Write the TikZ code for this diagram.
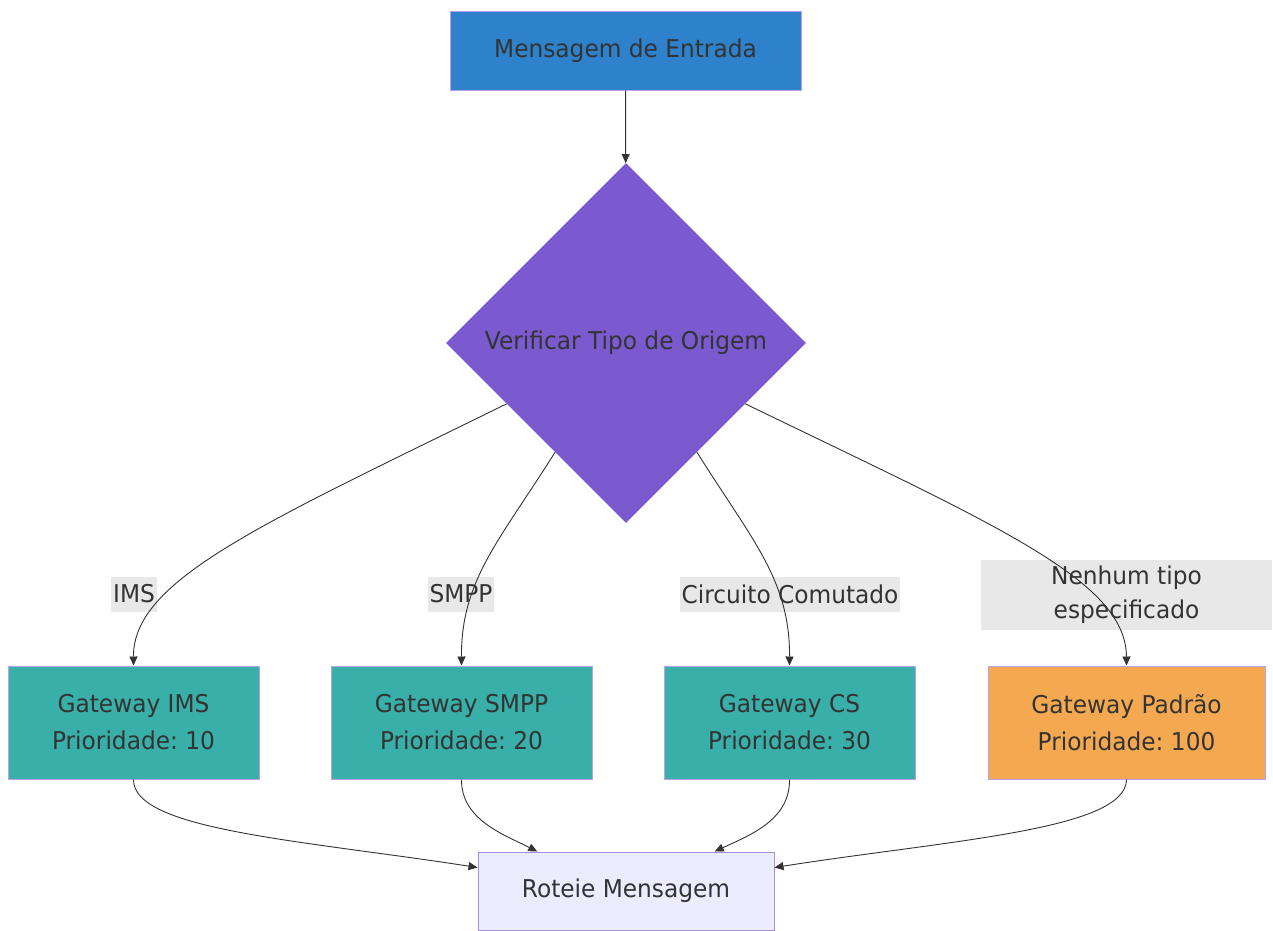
\documentclass[tikz,border=0pt]{standalone}
\usepackage{fontspec}
\setmainfont{DejaVu Sans}[FakeStretch=0.95]
\usepackage{tikz}
\usetikzlibrary{arrows.meta, positioning, shapes.geometric}
\definecolor{inputblue}{HTML}{2E82CC}
\definecolor{checkpurple}{HTML}{7B5AD0}
\definecolor{gwteal}{HTML}{38AFA8}
\definecolor{gworange}{HTML}{F4A950}
\definecolor{routefill}{HTML}{ECECFF}
\definecolor{routeline}{HTML}{A98BE3}
\definecolor{boxline}{HTML}{B8A2EC}
\definecolor{labelgray}{HTML}{E8E8E8}
\definecolor{txtgray}{HTML}{333333}
\frenchspacing

\begin{document}
\begin{tikzpicture}[
    x=1pt, y=-1pt,
    >={Triangle[length=9pt, width=8pt]},
    box/.style={draw=boxline, line width=1pt, minimum height=113pt, align=center, inner sep=0pt, text=txtgray, font=\fontsize{24.5}{37}\selectfont},
    elabel/.style={fill=labelgray, inner xsep=2pt, inner ysep=0pt, minimum height=35pt, align=center, text=txtgray, font=\fontsize{24.5}{34}\selectfont},
    link/.style={->, draw=txtgray, line width=0.9pt},
]
    \useasboundingbox (0,0) rectangle (1273,930);

    \node[box, fill=inputblue, minimum width=351pt, minimum height=79pt] (entrada) at (625.5,50.5) {Mensagem de Entrada};
    \node[diamond, fill=checkpurple, minimum width=360pt, minimum height=360pt, inner sep=0pt, text=txtgray, font=\fontsize{24.5}{37}\selectfont] (tipo) at (626,343) {Verificar Tipo de Origem};

    \node[box, fill=gwteal, minimum width=251pt] (gims) at (133.5,722.5) {Gateway IMS\\Prioridade: 10};
    \node[box, fill=gwteal, minimum width=261pt, right=71pt of gims] (gsmpp) {Gateway SMPP\\Prioridade: 20};
    \node[box, fill=gwteal, minimum width=251pt, right=71pt of gsmpp] (gcs) {Gateway CS\\Prioridade: 30};
    \node[box, fill=gworange, minimum width=277pt, right=72pt of gcs] (gpadrao) {Gateway Padrão\\Prioridade: 100};

    \node[box, draw=routeline, fill=routefill, minimum width=296pt, minimum height=78pt] (rota) at (626,891) {Roteie Mensagem};

    \node[elabel] (lims) at (134,594) {IMS};
    \node[elabel] (lsmpp) at (461,594) {SMPP};
    \node[elabel] (lcs) at (790,594) {Circuito Comutado};
    \node[elabel, minimum width=291pt, minimum height=70pt] (lpadrao) at (1126.5,595) {Nenhum tipo\\especificado};

    \draw[link] (entrada) -- (tipo);
    \draw[link] (tipo.207) .. controls (260,525) and (133,580) .. (gims.north);
    \draw[link] (tipo.237) .. controls (500,540) and (461,580) .. (gsmpp.north);
    \draw[link] (tipo.303) .. controls (752,540) and (790,580) .. (gcs.north);
    \draw[link] (tipo.333) .. controls (995,525) and (1126,580) .. (gpadrao.north);

    \draw[link] (gims.south) .. controls (133,830) and (300,840) .. (rota.171);
    \draw[link] (gsmpp.south) .. controls (461,820) and (505,835) .. (rota.156);
    \draw[link] (gcs.south) .. controls (790,820) and (750,835) .. (rota.24);
    \draw[link] (gpadrao.south) .. controls (1126,830) and (950,840) .. (rota.9);
\end{tikzpicture}
\end{document}
